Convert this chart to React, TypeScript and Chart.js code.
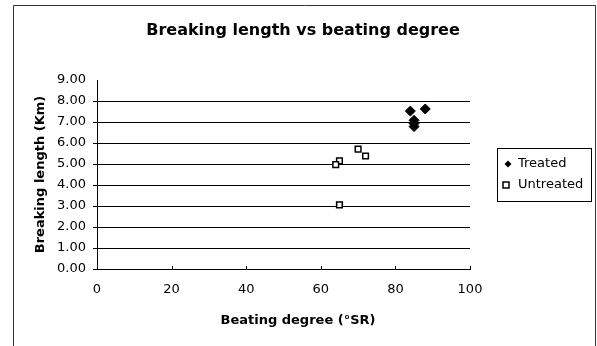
import React, { useEffect, useRef } from "react";
import { Chart, registerables } from "chart.js";

Chart.register(...registerables);

const treatedX = [84, 88, 85, 85, 85];
const treatedY = [7.52, 7.62, 7.08, 6.93, 6.78];
const untreatedX = [70, 72, 65, 64, 65];
const untreatedY = [5.71, 5.38, 5.15, 4.97, 3.05];
const xTicks = [0, 20, 40, 60, 80, 100];
const yTicks = [0, 1, 2, 3, 4, 5, 6, 7, 8, 9];
const seriesNames = ["Treated", "Untreated"];
const chartTitle = "Breaking length vs beating degree";
const xTitle = "Beating degree (°SR)";

const FONT = "'DejaVu Sans', Verdana, sans-serif";

const framePlugin = {
  id: "frame",
  afterDraw(chart: any) {
    const ctx = chart.ctx;
    ctx.save();
    ctx.strokeStyle = "#333";
    ctx.lineWidth = 1;
    ctx.beginPath();
    ctx.moveTo(13.5, chart.height);
    ctx.lineTo(13.5, 5.5);
    ctx.lineTo(595.5, 5.5);
    ctx.lineTo(595.5, chart.height);
    ctx.stroke();
    // titles
    ctx.fillStyle = "#000";
    ctx.textAlign = "center";
    ctx.textBaseline = "middle";
    ctx.font = `bold 16px ${FONT}`;
    ctx.fillText(chartTitle, 303, 31);
    ctx.font = `bold 13px ${FONT}`;
    ctx.fillText(xTitle, 298, 321);
    // small inner tick marks on x axis
    const xs = chart.scales.x;
    const yb = chart.chartArea.bottom;
    ctx.strokeStyle = "#000";
    xTicks.forEach((v) => {
      const px = Math.round(xs.getPixelForValue(v)) + 0.5;
      ctx.beginPath();
      ctx.moveTo(px, yb);
      ctx.lineTo(px, yb - 3);
      ctx.stroke();
    });
    // legend
    ctx.strokeRect(497.5, 148.5, 94, 53);
    ctx.font = `13px ${FONT}`;
    ctx.textAlign = "left";
    chart.data.datasets.forEach((ds: any, i: number) => {
      const y = 164 + i * 21;
      const mx = i === 0 ? 508 : 506;
      ctx.save();
      ctx.fillStyle = ds.backgroundColor;
      ctx.strokeStyle = ds.borderColor;
      ctx.lineWidth = 1.5;
      if (ds.pointStyle === "rectRot") {
        ctx.beginPath();
        ctx.moveTo(mx, y - 3.5);
        ctx.lineTo(mx + 3.5, y);
        ctx.lineTo(mx, y + 3.5);
        ctx.lineTo(mx - 3.5, y);
        ctx.closePath();
        ctx.fill();
      } else {
        ctx.fillRect(mx - 3, y - 3, 6, 6);
        ctx.strokeRect(mx - 3, y - 3, 6, 6);
      }
      ctx.restore();
      ctx.fillText(seriesNames[i], 518, y);
    });
    ctx.restore();
  },
};

export default function App() {
  const ref = useRef<HTMLCanvasElement>(null);
  useEffect(() => {
    document.body.style.margin = "0";
    const chart = new Chart(ref.current!, {
      type: "scatter",
      data: {
        datasets: [
          {
            label: seriesNames[0],
            data: treatedX.map((x, i) => ({ x, y: treatedY[i] })),
            pointStyle: "rectRot",
            pointRadius: 5,
            backgroundColor: "#000",
            borderColor: "#000",
            borderWidth: 1,
          },
          {
            label: seriesNames[1],
            data: untreatedX.map((x, i) => ({ x, y: untreatedY[i] })),
            pointStyle: "rect",
            pointRadius: 4,
            backgroundColor: "#fff",
            borderColor: "#000",
            borderWidth: 1.5,
          },
        ],
      },
      options: {
        animation: false,
        responsive: false,
        layout: { padding: { top: 80, right: 127, left: 33, bottom: 0 } },
        plugins: {
          title: { display: false },
          legend: { display: false },
          tooltip: { enabled: false },
        },
        scales: {
          x: {
            type: "linear",
            min: 0,
            max: 100,
            afterBuildTicks: (s: any) => {
              s.ticks = xTicks.map((v) => ({ value: v }));
            },
            afterFit: (s: any) => {
              s.height = 77;
            },
            ticks: { color: "#000", font: { family: FONT, size: 13 }, padding: 13 },
            grid: { display: false, drawTicks: false },
            border: { color: "#000", width: 1 },
          },
          y: {
            type: "linear",
            min: 0,
            max: 9,
            afterBuildTicks: (s: any) => {
              s.ticks = yTicks.map((v) => ({ value: v }));
            },
            afterFit: (s: any) => {
              s.width = 64;
            },
            ticks: {
              color: "#000",
              font: { family: FONT, size: 13 },
              callback: (v: any) => Number(v).toFixed(2),
              padding: 7,
            },
            grid: {
              color: (c: any) => (c.tick && c.tick.value === 9 ? "rgba(0,0,0,0)" : "#000"),
              lineWidth: 1,
              tickLength: 4,
            },
            border: { color: "#000", width: 1 },
            title: {
              display: true,
              text: "Breaking length (Km)",
              color: "#000",
              font: { family: FONT, size: 13, weight: "bold" },
              padding: 0,
            },
          },
        },
      } as any,
      plugins: [framePlugin],
    });
    return () => chart.destroy();
  }, []);
  return <canvas ref={ref} width={597} height={346} style={{ display: "block" }} />;
}
